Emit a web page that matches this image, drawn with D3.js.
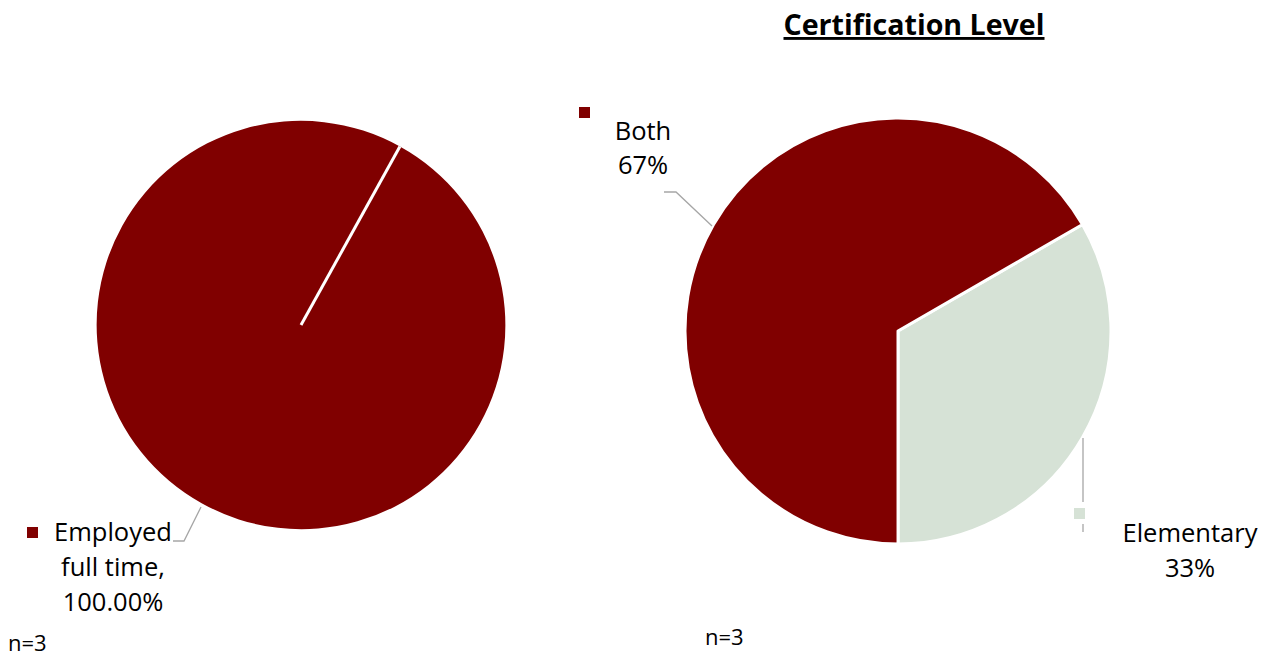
<!DOCTYPE html>
<html><head><meta charset="utf-8">
<script src="https://cdn.jsdelivr.net/npm/d3@7"></script>
<style>body{margin:0;background:#fff}svg{display:block}text{font-family:"Open Sans",Lato,sans-serif;fill:#000}</style>
</head><body>
<svg id="c" width="1265" height="656"></svg>
<script>
const employmentCategories = ["Employed full time"];
const employmentValues = [100];
const employmentLabels = [["Employed", "full time,", "100.00%"]];
const certCategories = ["Elementary", "Both"];
const certValues = [33.33, 66.67];
const certLabels = [["Elementary", "33%"], ["Both", "67%"]];
const titleText = "Certification Level";
const nText = "n=3";

const svg = d3.select("#c");
const maroon = "#800000", sage = "#d6e2d6", leader = "#a6a6a6";

// Left pie
const c1 = {x: 301, y: 325, r: 204};
const pie1 = d3.pie().sort(null).startAngle(29 * Math.PI / 180).endAngle(29 * Math.PI / 180 + 2 * Math.PI);
const arc1 = d3.arc().innerRadius(0).outerRadius(c1.r);
const g1 = svg.append("g").attr("transform", `translate(${c1.x},${c1.y})`);
g1.selectAll("path").data(pie1(employmentValues)).join("path")
  .attr("d", arc1).attr("fill", maroon);
g1.selectAll("line.edge").data(pie1(employmentValues)).join("line")
  .attr("x1", 0).attr("y1", 0)
  .attr("x2", d => c1.r * Math.sin(d.startAngle))
  .attr("y2", d => -c1.r * Math.cos(d.startAngle))
  .attr("stroke", "#fff").attr("stroke-width", 3);

// Right pie
const c2 = {x: 898, y: 331, r: 213};
const pie2 = d3.pie().sort(null).startAngle(Math.PI / 3).endAngle(Math.PI / 3 + 2 * Math.PI);
const arc2 = d3.arc().innerRadius(0).outerRadius(c2.r);
const g2 = svg.append("g").attr("transform", `translate(${c2.x},${c2.y})`);
const colors2 = [sage, maroon];
g2.selectAll("path").data(pie2(certValues)).join("path")
  .attr("d", arc2).attr("fill", (d, i) => colors2[i])
  .attr("stroke", "#fff").attr("stroke-width", 3).attr("stroke-linejoin", "round");

const fs = 25.5;
function label(lines, cx, y0, lh, anchor) {
  const t = svg.append("text").attr("font-size", fs).attr("text-anchor", anchor || "middle");
  lines.forEach((s, i) => t.append("tspan").attr("x", cx).attr("y", y0 + i * lh).text(s));
}

// Left label
svg.append("rect").attr("x", 27).attr("y", 527).attr("width", 11).attr("height", 11).attr("fill", maroon);
svg.append("text").attr("font-size", fs).attr("x", 54).attr("y", 541).text(employmentLabels[0][0]);
label(employmentLabels[0].slice(1), 113, 576, 35);
svg.append("polyline").attr("points", "173,541 184,541 201,507").attr("fill", "none").attr("stroke", leader).attr("stroke-width", 1.3);

// Both label
svg.append("rect").attr("x", 579).attr("y", 107).attr("width", 11).attr("height", 11).attr("fill", maroon);
label(certLabels[1], 643, 140, 34);
svg.append("polyline").attr("points", "664,192 676,192 712,226").attr("fill", "none").attr("stroke", leader).attr("stroke-width", 1.3);

// Elementary label
svg.append("line").attr("x1", 1083).attr("x2", 1083).attr("y1", 438).attr("y2", 502).attr("stroke", leader).attr("stroke-width", 1.3);
svg.append("rect").attr("x", 1074).attr("y", 508).attr("width", 11).attr("height", 11).attr("fill", sage);
svg.append("line").attr("x1", 1083).attr("x2", 1083).attr("y1", 524).attr("y2", 532).attr("stroke", leader).attr("stroke-width", 1.3);
label(certLabels[0], 1190, 542, 35);

// Title
svg.append("text").attr("x", 914).attr("y", 35).attr("text-anchor", "middle")
  .attr("font-size", 28.6).attr("font-weight", "bold").attr("text-decoration", "underline").text(titleText);

svg.append("text").attr("x", 8).attr("y", 651).attr("font-size", 22).text(nText);
svg.append("text").attr("x", 705).attr("y", 645).attr("font-size", 22).text(nText);
</script>
</body></html>
